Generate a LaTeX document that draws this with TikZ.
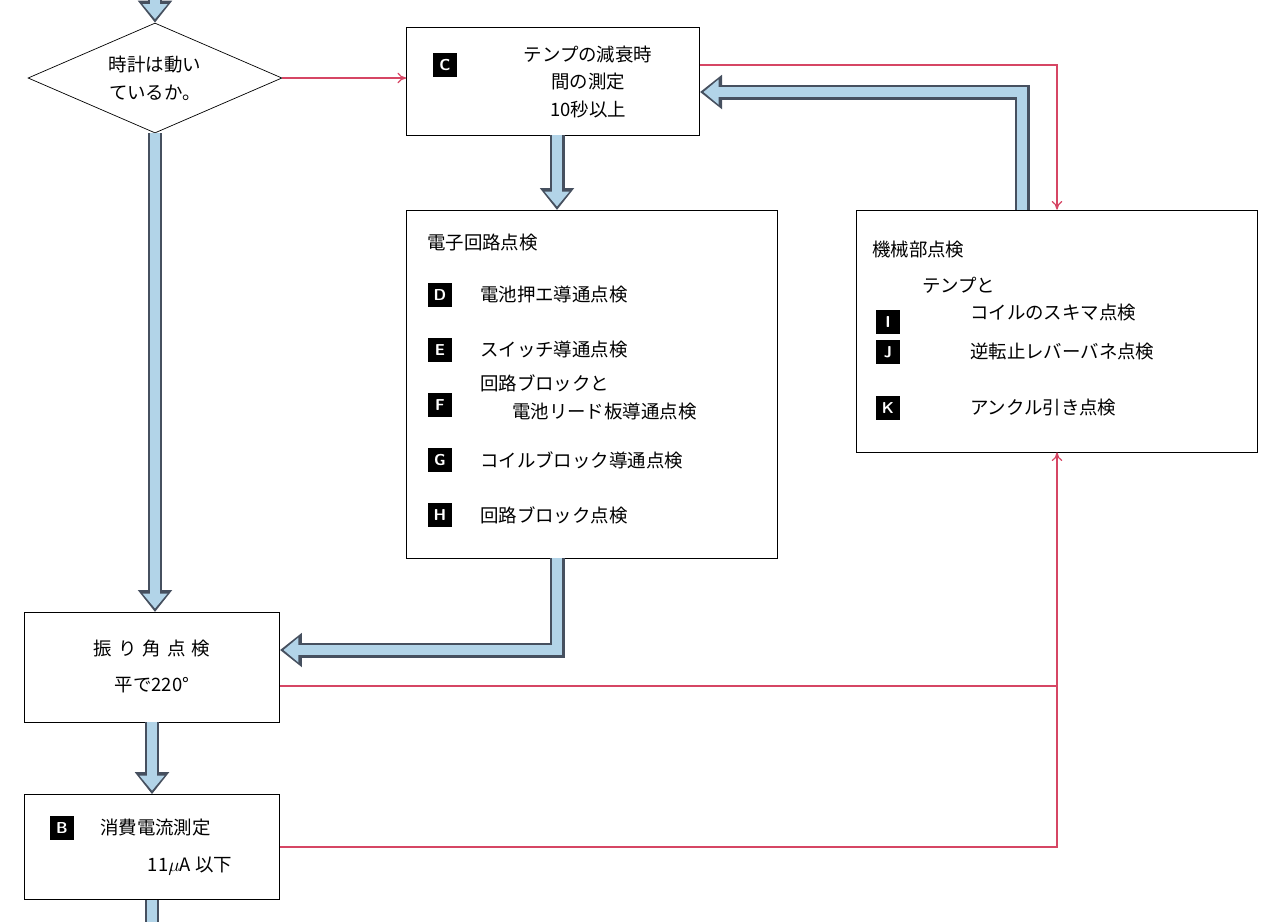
\documentclass[tikz,border=0pt]{standalone}
\usepackage{fontspec}
\setmainfont{Noto Sans CJK JP}
\usetikzlibrary{arrows.meta,shapes.geometric}
\definecolor{pinkline}{RGB}{214,70,100}
\definecolor{arrowfill}{RGB}{178,212,232}
\definecolor{arrowedge}{RGB}{70,80,95}
\tikzset{
  box/.style={draw, rectangle, inner sep=0pt},
  tag/.style={fill=black, text=white, font=\sffamily\bfseries\small, minimum size=0.48cm, inner sep=0pt},
  jp/.style={font=\fontsize{10.5}{16}\selectfont, inner sep=1pt},
  pink/.style={color=pinkline, line width=0.7pt, -{To[length=5pt,width=6pt]}},
  pinkplain/.style={color=pinkline, line width=0.7pt},
  fatout/.style={draw=arrowedge, line width=0.3cm, line join=miter, -{Triangle[width=0.66cm,length=0.44cm]}},
  fatin/.style={draw=arrowfill, line width=0.2cm, line join=miter, shorten >=0.07cm, -{Triangle[width=0.48cm,length=0.3cm]}}
}
\newcommand\fatarrow[1]{\draw[fatout] #1; \draw[fatin] #1;}
\begin{document}
\begin{tikzpicture}[x=0.02cm, y=-0.02cm]
\useasboundingbox (0,0) rectangle (1279,921);
% nodes
\node[draw, diamond, inner sep=0pt, minimum width=5.08cm, minimum height=2.2cm, aspect=2.3] (dia) at (155,78){};
\node[jp, align=center] at (155,78) {時計は動い\\ているか。};
\node[box, minimum width=5.86cm, minimum height=2.16cm] (boxC) at (553,81){};
\node[box, minimum width=7.42cm, minimum height=6.96cm] (boxE) at (592,384){};
\node[box, minimum width=8.02cm, minimum height=4.84cm] (boxM) at (1057,331){};
\node[box, minimum width=5.1cm, minimum height=2.2cm] (boxS) at (152,667){};
\node[box, minimum width=5.1cm, minimum height=2.1cm] (boxB) at (152,847){};
% box C
\node[tag] (tC) at (445,65) {C};
\node[jp] (c1) at (588,54) {テンプの減衰時};
\node[jp] (c2) at (588,82) {間の測定};
\node[jp] (c3) at (588,110) {10秒以上};
% electronic circuit
\node[jp, anchor=west] (e0) at (425,243) {電子回路点検};
\node[tag] (tD) at (440,295) {D};
\node[jp, anchor=west] (e1) at (478,295) {電池押エ導通点検};
\node[tag] (tE) at (440,350) {E};
\node[jp, anchor=west] (e2) at (478,350) {スイッチ導通点検};
\node[tag] (tF) at (440,405) {F};
\node[jp, anchor=west] (e3) at (478,383) {回路ブロックと};
\node[jp, anchor=west] (e4) at (510,412) {電池リード板導通点検};
\node[tag] (tG) at (440,460) {G};
\node[jp, anchor=west] (e5) at (478,460) {コイルブロック導通点検};
\node[tag] (tH) at (440,515) {H};
\node[jp, anchor=west] (e6) at (478,515) {回路ブロック点検};
% mechanical
\node[jp, anchor=west] (m0) at (870,250) {機械部点検};
\node[tag] (tI) at (888,322) {I};
\node[jp, anchor=west] (m1) at (920,285) {テンプと};
\node[jp, anchor=west] (m2) at (968,313) {コイルのスキマ点検};
\node[tag] (tJ) at (888,352) {J};
\node[jp, anchor=west] (m3) at (968,352) {逆転止レバーバネ点検};
\node[tag] (tK) at (888,408) {K};
\node[jp, anchor=west] (m4) at (968,408) {アンクル引き点検};
% swing / current
\node[jp] (s1) at (152,648) {振\,\,り\,\,角\,\,点\,\,検};
\node[jp] (s2) at (152,685) {平で220°};
\node[tag] (tB) at (62,828) {B};
\node[jp, anchor=west] (b1) at (98,828) {消費電流測定};
\node[jp] (b2) at (190,866) {11$\mu$A 以下};
% connector points
\coordinate (top) at (155,-10);
\coordinate (bot) at (152,930);
\coordinate (cOut) at (700,65);
\coordinate (mUp) at (1022,210);
\coordinate (cIn) at (700,92);
\coordinate (eOut) at (557,558);
\coordinate (sIn) at (280,650);
\coordinate (sOut) at (280,686);
\coordinate (jn) at (1057,686);
\coordinate (cDown) at (557,135);
\coordinate (eIn) at (557,210);
\coordinate (sTop) at (155,612);
\coordinate (sBot) at (152,722);
% thick arrows
\fatarrow{(top) -- (dia.north)}
\fatarrow{(dia.south) -- (sTop)}
\fatarrow{(cDown) -- (eIn)}
\fatarrow{(mUp) |- (cIn)}
\fatarrow{(eOut) |- (sIn)}
\fatarrow{(sBot) -- (boxB.north)}
\draw[draw=arrowedge, line width=0.3cm] (boxB.south) -- (bot);
\draw[draw=arrowfill, line width=0.2cm] (boxB.south) -- (bot);
% thin lines
\draw[pink] (dia.east) -- (dia.east -| boxC.west);
\draw[pink] (cOut) -| (boxM.north);
\draw[pinkplain] (sOut) -- (jn);
\draw[pink] (boxB.east) -| (boxM.south);
\end{tikzpicture}
\end{document}
